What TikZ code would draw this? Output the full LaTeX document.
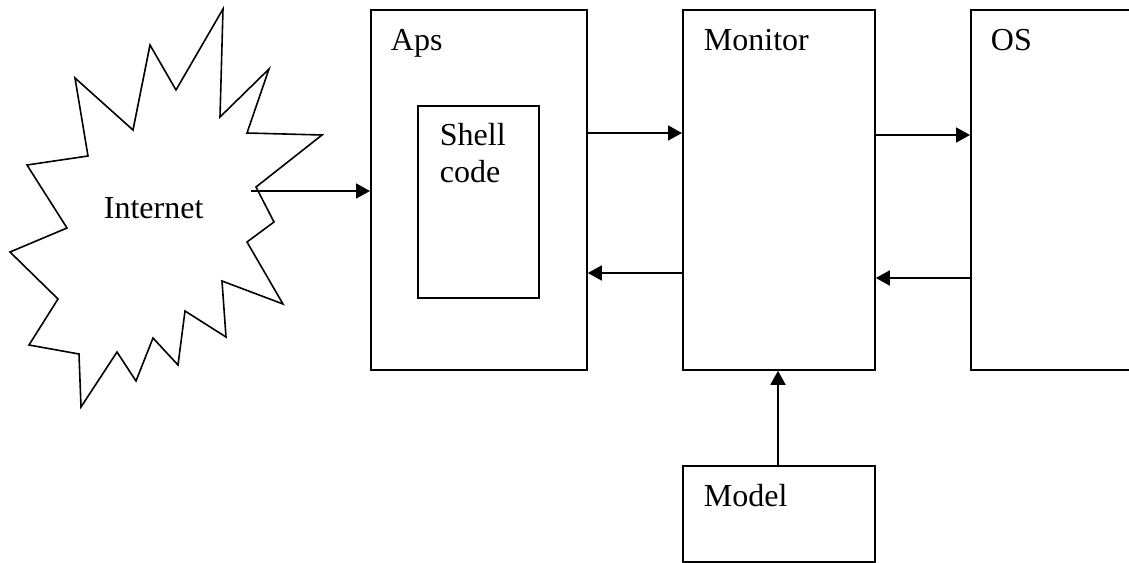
\documentclass[tikz,border=0pt]{standalone}
\usepackage{fontspec}
\setmainfont{Liberation Serif}
\usetikzlibrary{arrows.meta}
\begin{document}
\begin{tikzpicture}[x=1pt,y=-1pt,
  line width=1.8pt,
  box/.style={draw,rectangle,line width=1.8pt,inner sep=0pt,anchor=north west},
  lbl/.style={inner sep=0pt,anchor=base west,font=\fontsize{32}{37}\selectfont,align=left},
  arr/.style={-{Triangle[length=14pt,width=15pt]},line width=1.8pt}]
\useasboundingbox (0,0) rectangle (1129,562);
\clip (0,0) rectangle (1129,562);

% starburst standing for the Internet
\draw[line width=1.6pt,line join=miter]
  (223,9) -- (220,117) -- (269,69) -- (247,133) -- (322,135) -- (256,187)
  -- (274,222) -- (247,242) -- (283,304) -- (222,281) -- (226,337)
  -- (185,311) -- (178,365) -- (153,338) -- (136,381) -- (117,352)
  -- (81,407) -- (79,354) -- (29,345) -- (58,299) -- (10,252) -- (67,228)
  -- (27,165) -- (88,156) -- (75,78) -- (133,130) -- (150,45) -- (176,90)
  -- cycle;
\node[lbl] (nettext) at (103,218) {Internet};
\coordinate (netout) at (251,191);

% blocks
\node[box,minimum width=216pt,minimum height=360pt] (aps) at (370,9) {};
\node[box,minimum width=121pt,minimum height=192pt] (shell) at (417,105) {};
\node[box,minimum width=192pt,minimum height=360pt] (mon) at (682,9) {};
\node[box,minimum width=200pt,minimum height=360pt] (os) at (970,9) {};
\node[box,minimum width=192pt,minimum height=96pt] (model) at (682,465) {};

% block titles
\node[lbl] (apstext) at (390,50) {Aps};
\node[lbl] (shelltext) at (439,145) {Shell};
\node[lbl] (codetext) at (439,182) {code};
\node[lbl] (montext) at (703,50) {Monitor};
\node[lbl] (ostext) at (990,50) {OS};
\node[lbl] (modeltext) at (703,506) {Model};

% connectors
\draw[arr] (netout) -- (aps.west |- netout);
\draw[arr] (aps.east |- 0,133) -- (mon.west |- 0,133);
\draw[arr] (mon.west |- 0,273) -- (aps.east |- 0,273);
\draw[arr] (mon.east |- 0,135) -- (os.west |- 0,135);
\draw[arr] (os.west |- 0,278) -- (mon.east |- 0,278);
\draw[arr] (model.north -| 778,0) -- (mon.south -| 778,0);
\end{tikzpicture}
\end{document}
